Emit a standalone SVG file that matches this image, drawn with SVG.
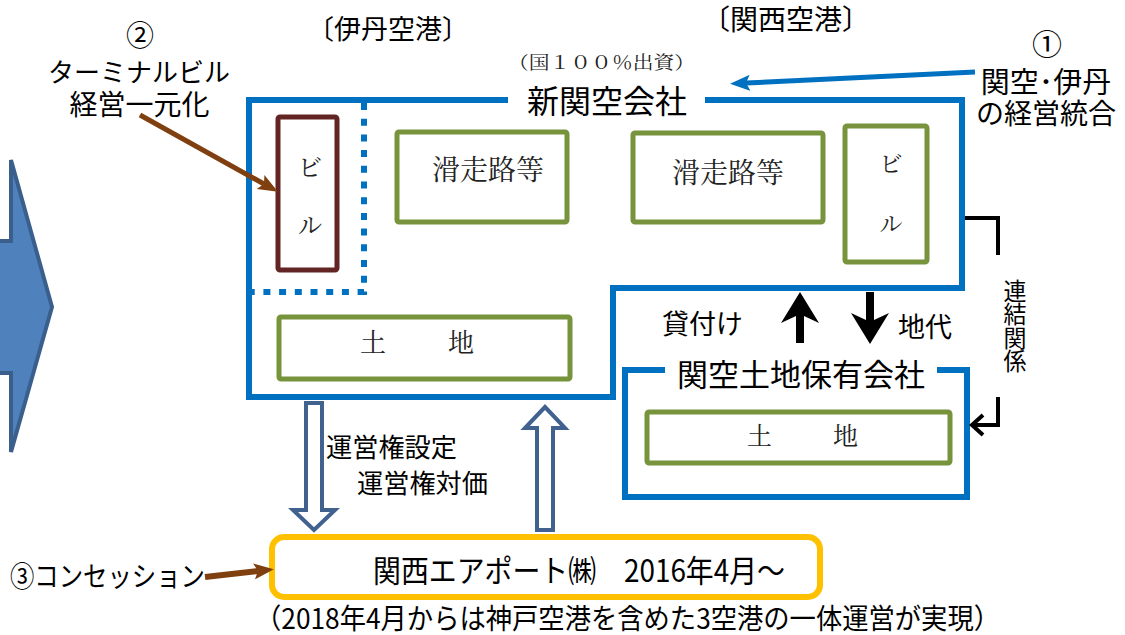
<svg xmlns="http://www.w3.org/2000/svg" width="1125" height="635" viewBox="0 0 1125 635">
<style>
text{font-family:"Noto Sans CJK JP","Noto Sans",sans-serif;fill:#000}
.m{font-family:"Noto Serif CJK JP","Noto Sans CJK JP",serif;fill:#222}
.blue{fill:none;stroke:#0070C0;stroke-width:6}
.green{fill:#fff;stroke:#77933C;stroke-width:5}
.hollow{fill:#fff;stroke:#41618F;stroke-width:4}
.c{text-anchor:middle}
</style>
<defs>
<marker id="hBrown" viewBox="0 0 20 16" refX="4" refY="8" markerWidth="20" markerHeight="16" orient="auto" markerUnits="userSpaceOnUse"><path d="M0,0 L20,8 L0,16 L4,8 z" fill="#7F3F0F"/></marker>
<marker id="hBlue" viewBox="0 0 20 16" refX="4" refY="8" markerWidth="20" markerHeight="16" orient="auto" markerUnits="userSpaceOnUse"><path d="M0,0 L20,8 L0,16 L4,8 z" fill="#0070C0"/></marker>
</defs>

<g id="bigArrow"><polygon points="-50,241 11,241 11,160 52,307 11,452 11,373 -50,373" fill="#4F81BD" stroke="#3A5F8D" stroke-width="4"/></g>

<g id="labels">
<text class="c" x="140" y="46" font-size="28">②</text>
<text class="c" font-size="26"><tspan x="139" y="82">ターミナルビル</tspan><tspan x="139.5" y="115" font-size="28">経営一元化</tspan></text>
<text x="307" y="39" font-size="27">〔伊丹空港〕</text>
<text x="702" y="30" font-size="28">〔関西空港〕</text>
<text class="c" font-size="29"><tspan x="1047" y="55" font-size="30">①</tspan><tspan x="1046" y="93">関空･伊丹</tspan><tspan x="1046" y="124" font-size="28">の経営統合</tspan></text>
<text x="10" y="587" font-size="28" textLength="195" lengthAdjust="spacingAndGlyphs">③コンセッション</text>
<text x="255" y="629" font-size="28" textLength="745" lengthAdjust="spacingAndGlyphs">（2018年4月からは神戸空港を含めた3空港の一体運営が実現）</text>
</g>

<g id="newKansai">
<path class="blue" d="M508,100 H249 V397 H613 V288 H962 V100 H705"/>
<text class="m" x="508" y="69" font-size="18" textLength="187" lengthAdjust="spacingAndGlyphs">（国１００％出資）</text>
<text class="c" x="607" y="113" font-size="32">新関空会社</text>
<path d="M364,103 V292 H252" fill="none" stroke="#0070C0" stroke-width="6" stroke-dasharray="7 8.7"/>
</g>

<g id="itamiBuilding">
<rect x="278" y="117" width="59" height="153" rx="2" fill="#fff" stroke="#632523" stroke-width="5"/>
<text class="m c" x="310" y="176" font-size="24">ビ</text>
<text class="m c" x="310" y="234" font-size="24">ル</text>
</g>
<g id="itamiRunway">
<rect class="green" x="397" y="132" width="170" height="90" rx="2"/>
<text class="m c" x="488" y="180" font-size="28">滑走路等</text>
</g>
<g id="kansaiRunway">
<rect class="green" x="633" y="133" width="190" height="89" rx="2"/>
<text class="m c" x="728" y="183" font-size="28">滑走路等</text>
</g>
<g id="kansaiBuilding">
<rect class="green" x="845" y="126" width="82" height="136" rx="2"/>
<text class="m c" x="891" y="172" font-size="23">ビ</text>
<text class="m c" x="891" y="232" font-size="23">ル</text>
</g>
<g id="itamiLand">
<rect class="green" x="279" y="317" width="291" height="62" rx="2"/>
<text class="m" x="360" y="352" font-size="26">土</text>
<text class="m" x="448" y="352" font-size="26">地</text>
</g>

<g id="landCompany">
<path class="blue" d="M665,370 H625 V497 H967 V370 H937"/>
<text class="c" x="801" y="386" font-size="31">関空土地保有会社</text>
<rect class="green" x="647" y="412" width="303" height="51" rx="2"/>
<text class="m" x="747" y="445" font-size="25">土</text>
<text class="m" x="833" y="445" font-size="25">地</text>
</g>

<g id="kansaiAirports">
<rect x="272" y="537" width="548" height="60" rx="12" fill="#fff" stroke="#FFC000" stroke-width="6"/>
<text x="373" y="582" font-size="31" textLength="412" lengthAdjust="spacingAndGlyphs">関西エアポート㈱　2016年4月～</text>
</g>

<g id="connectors">
<line x1="140" y1="115" x2="264" y2="184" stroke="#7F3F0F" stroke-width="5" marker-end="url(#hBrown)"/>
<line x1="975" y1="72" x2="746" y2="83" stroke="#0070C0" stroke-width="5" marker-end="url(#hBlue)"/>
<line x1="205" y1="577" x2="258" y2="571" stroke="#7F3F0F" stroke-width="6" marker-end="url(#hBrown)"/>
<polygon class="hollow" points="306,403 322,403 322,510 335,510 314,530 293,510 306,510"/>
<polygon class="hollow" points="545,407 565,428 553,428 553,530 537,530 537,428 525,428"/>
<text x="326" y="457" font-size="26" textLength="131" lengthAdjust="spacingAndGlyphs">運営権設定</text>
<text x="357" y="493" font-size="26" textLength="131" lengthAdjust="spacingAndGlyphs">運営権対価</text>
<polygon points="800,292 819,323 804,316 804,343 796,343 796,316 781,323" fill="#000"/>
<polygon points="870,344 889,313 874,320 874,292 866,292 866,320 851,313" fill="#000"/>
<text x="662" y="334" font-size="27">貸付け</text>
<text x="898" y="337" font-size="27">地代</text>
<polyline points="965,218 998,218 998,255" fill="none" stroke="#000" stroke-width="4"/>
<polyline points="998,397 998,425 972,425" fill="none" stroke="#000" stroke-width="4"/>
<polyline points="983,415 972,425 983,435" fill="none" stroke="#000" stroke-width="4"/>
<text x="1015" y="279" font-size="23" writing-mode="vertical-rl" textLength="94" lengthAdjust="spacingAndGlyphs">連結関係</text>
</g>
</svg>
